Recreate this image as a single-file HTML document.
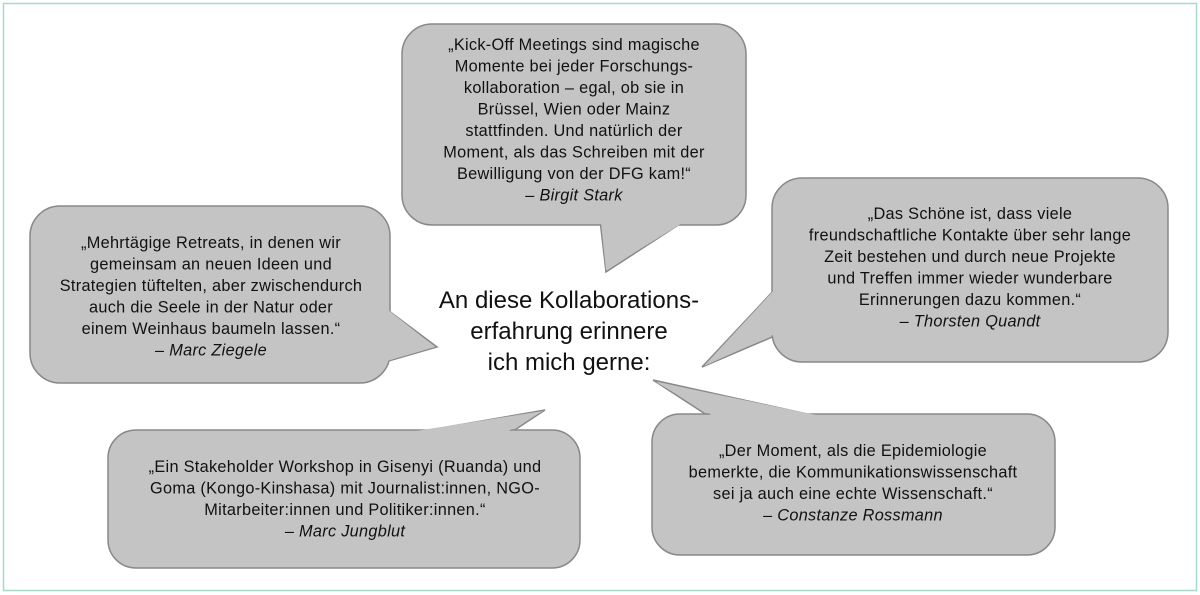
<!DOCTYPE html>
<html><head><meta charset="utf-8"><style>
html,body{margin:0;padding:0;background:#fff;}
svg{display:block;}
text{font-family:"Liberation Sans",sans-serif;font-size:16.3px;letter-spacing:0.3px;fill:#111;}
.i{font-style:italic;}
.t{font-size:24px;letter-spacing:0;}
</style></head><body>
<svg width="1200" height="595" viewBox="0 0 1200 595">
<rect x="3.5" y="3.5" width="1193" height="587" fill="#fff" stroke="#a8d8cc" stroke-width="1.5"/>
<g fill="#c4c4c4" stroke="#888" stroke-width="1.5">
<polygon points="600,220 606,272 686,220"/>
<rect x="402" y="24" width="344" height="201" rx="30"/>
<polygon points="601,222 606,270 684,222" stroke="none"/>
<polygon points="385,308 437,347 385,362"/>
<rect x="30" y="206" width="360" height="177" rx="30"/>
<polygon points="387,309 435,347 387,361" stroke="none"/>
<polygon points="777,287 702,367 777,335"/>
<rect x="772" y="178" width="396" height="184" rx="30"/>
<polygon points="775,289 704,366 775,334" stroke="none"/>
<polygon points="400,435 545,410 507,435"/>
<rect x="108" y="430" width="472" height="138" rx="28"/>
<polygon points="403,433 543,411 505,433" stroke="none"/>
<polygon points="713,419 653,380 830,419"/>
<rect x="652" y="414" width="403" height="141" rx="28"/>
<polygon points="715,417 656,382 826,417" stroke="none"/>
</g>
<g text-anchor="middle">
<text x="574" y="50">„Kick-Off Meetings sind magische</text>
<text x="574" y="71.5">Momente bei jeder Forschungs-</text>
<text x="574" y="93">kollaboration – egal, ob sie in</text>
<text x="574" y="114.5">Brüssel, Wien oder Mainz</text>
<text x="574" y="136">stattfinden. Und natürlich der</text>
<text x="574" y="157.5">Moment, als das Schreiben mit der</text>
<text x="574" y="179">Bewilligung von der DFG kam!“</text>
<text x="574" y="200.5" class="i">– Birgit Stark</text>

<text x="211" y="248">„Mehrtägige Retreats, in denen wir</text>
<text x="211" y="269.5">gemeinsam an neuen Ideen und</text>
<text x="211" y="291">Strategien tüftelten, aber zwischendurch</text>
<text x="211" y="312.5">auch die Seele in der Natur oder</text>
<text x="211" y="334">einem Weinhaus baumeln lassen.“</text>
<text x="211" y="355.5" class="i">– Marc Ziegele</text>

<text x="970" y="219">„Das Schöne ist, dass viele</text>
<text x="970" y="240.5">freundschaftliche Kontakte über sehr lange</text>
<text x="970" y="262">Zeit bestehen und durch neue Projekte</text>
<text x="970" y="283.5">und Treffen immer wieder wunderbare</text>
<text x="970" y="305">Erinnerungen dazu kommen.“</text>
<text x="970" y="326.5" class="i">– Thorsten Quandt</text>

<text x="345" y="472">„Ein Stakeholder Workshop in Gisenyi (Ruanda) und</text>
<text x="345" y="493.5">Goma (Kongo-Kinshasa) mit Journalist:innen, NGO-</text>
<text x="345" y="515">Mitarbeiter:innen und Politiker:innen.“</text>
<text x="345" y="536.5" class="i">– Marc Jungblut</text>

<text x="853" y="456">„Der Moment, als die Epidemiologie</text>
<text x="853" y="477.5">bemerkte, die Kommunikationswissenschaft</text>
<text x="853" y="499">sei ja auch eine echte Wissenschaft.“</text>
<text x="853" y="520.5" class="i">– Constanze Rossmann</text>

<text x="569" y="308" class="t">An diese Kollaborations-</text>
<text x="569" y="339" class="t">erfahrung erinnere</text>
<text x="569" y="370" class="t">ich mich gerne:</text>
</g>
</svg>
</body></html>
